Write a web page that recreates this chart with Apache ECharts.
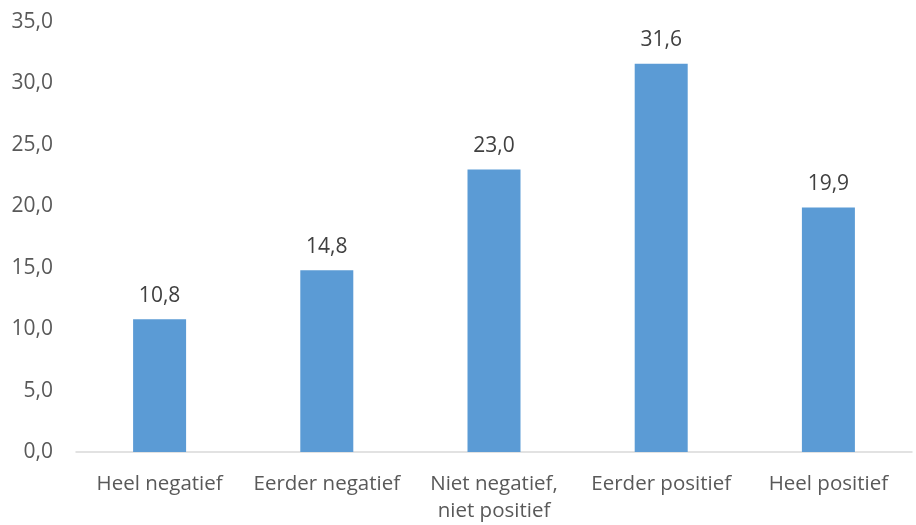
<!DOCTYPE html>
<html><head><meta charset="utf-8">
<script src="https://cdn.jsdelivr.net/npm/echarts@6/dist/echarts.min.js"></script>
<style>html,body{margin:0;padding:0;background:#fff}#c{width:916px;height:525px}</style>
</head><body><div id="c"></div>
<script>
const categories = ['Heel negatief', 'Eerder negatief', 'Niet negatief,\nniet positief', 'Eerder positief', 'Heel positief'];
const values = [10.8, 14.8, 23.0, 31.6, 19.9];
const fmt = v => Number(v).toFixed(1).replace('.', ',');
const chart = echarts.init(document.getElementById('c'));
chart.setOption({
  animation: false,
  textStyle: { fontFamily: 'Open Sans', color: '#595959' },
  grid: { left: 76, right: 4, top: 22, bottom: 72, containLabel: false },
  xAxis: {
    type: 'category', data: categories,
    axisLine: { lineStyle: { color: '#D9D9D9', width: 1.5 } },
    axisTick: { show: false },
    axisLabel: { color: '#595959', fontSize: 20.5, fontFamily: 'Open Sans', margin: 19, lineHeight: 27, interval: 0 }
  },
  yAxis: {
    type: 'value', min: 0, max: 35, interval: 5,
    splitLine: { show: false },
    axisLine: { show: false }, axisTick: { show: false },
    axisLabel: { color: '#595959', fontSize: 21, fontFamily: 'Open Sans', margin: 23, formatter: fmt }
  },
  series: [{
    type: 'bar', data: values, barWidth: 53,
    itemStyle: { color: '#5B9BD5' },
    label: { show: true, position: 'top', distance: 13, color: '#404040', fontSize: 21, fontFamily: 'Open Sans', formatter: p => fmt(p.value) }
  }]
});
</script></body></html>
